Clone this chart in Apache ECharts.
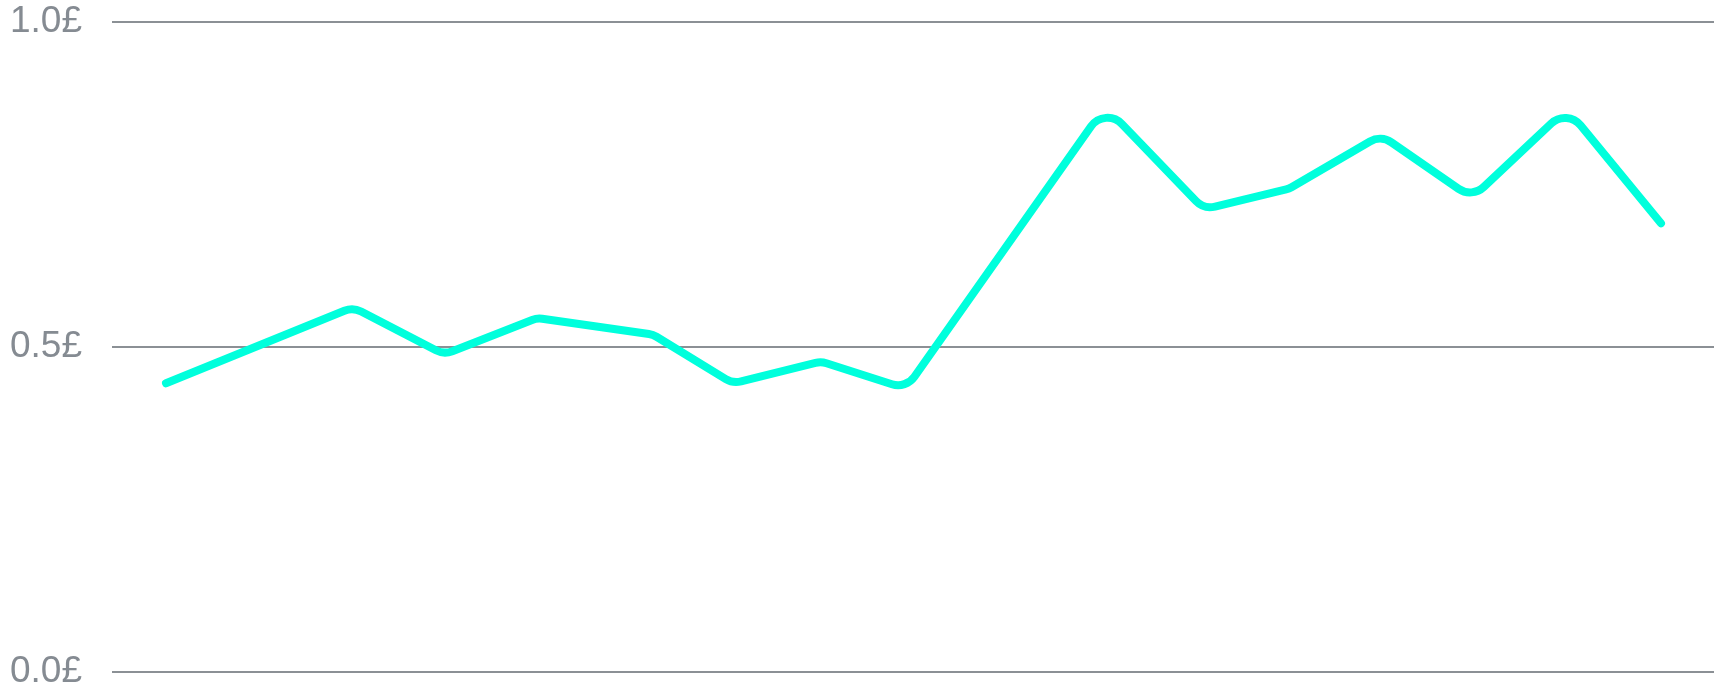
<!DOCTYPE html>
<html>
<head>
<meta charset="utf-8">
<script src="https://cdn.jsdelivr.net/npm/echarts@6/dist/echarts.min.js"></script>
<style>
html,body{margin:0;padding:0;background:#ffffff;}
#chart{width:1716px;height:694px;}
</style>
</head>
<body>
<div id="chart"></div>
<script>
// x positions of observations (relative time units along the axis, 0..100)
const xValues = [3.37, 15.04, 20.72, 26.53, 33.77, 38.76, 44.26, 49.56, 61.99, 68.16, 73.47, 79.21, 84.89, 90.82, 96.69];
// price values in £
const priceValues = [0.4442, 0.5611, 0.4885, 0.5446, 0.5191, 0.4440, 0.4777, 0.4358, 0.8700, 0.7118, 0.7434, 0.8260, 0.7291, 0.8665, 0.6903];
// y tick values and labels
const yTicks = [0, 0.5, 1.0];
const yTickLabels = ['0.0£', '0.5£', '1.0£'];

const LINE_COLOR = '#00ffdc';
const LINE_WIDTH = 8;
const CORNER_RADIUS = 20;

const seriesData = xValues.map((x, i) => [x, priceValues[i]]);

function roundedPath(pts, R) {
  let d = 'M' + pts[0][0] + ' ' + pts[0][1];
  for (let i = 1; i < pts.length - 1; i++) {
    const p0 = pts[i - 1], p1 = pts[i], p2 = pts[i + 1];
    const v1 = [p0[0] - p1[0], p0[1] - p1[1]];
    const v2 = [p2[0] - p1[0], p2[1] - p1[1]];
    const l1 = Math.hypot(v1[0], v1[1]), l2 = Math.hypot(v2[0], v2[1]);
    const u1 = [v1[0] / l1, v1[1] / l1], u2 = [v2[0] / l2, v2[1] / l2];
    const cosT = Math.max(-1, Math.min(1, u1[0] * u2[0] + u1[1] * u2[1]));
    const theta = Math.acos(cosT);           // interior angle
    if (theta > Math.PI - 1e-3) { d += ' L' + p1[0] + ' ' + p1[1]; continue; }
    let t = R / Math.tan(theta / 2);
    t = Math.min(t, l1 / 2, l2 / 2);
    const r = t * Math.tan(theta / 2);
    const phi = Math.PI - theta;             // turning angle
    const k = 4 / 3 * Math.tan(phi / 4) * r;
    const a = [p1[0] + u1[0] * t, p1[1] + u1[1] * t];
    const b = [p1[0] + u2[0] * t, p1[1] + u2[1] * t];
    const c1 = [a[0] - u1[0] * k, a[1] - u1[1] * k];
    const c2 = [b[0] - u2[0] * k, b[1] - u2[1] * k];
    d += ' L' + a[0] + ' ' + a[1];
    d += ' C' + c1[0] + ' ' + c1[1] + ' ' + c2[0] + ' ' + c2[1] + ' ' + b[0] + ' ' + b[1];
  }
  const last = pts[pts.length - 1];
  d += ' L' + last[0] + ' ' + last[1];
  return d;
}

const chart = echarts.init(document.getElementById('chart'), null, {renderer: 'canvas'});
chart.setOption({
  animation: false,
  backgroundColor: '#ffffff',
  grid: {left: 112, right: 2, top: 22, bottom: 22, containLabel: false},
  xAxis: {
    type: 'value', min: 0, max: 100,
    show: false
  },
  yAxis: {
    type: 'value', min: 0, max: 1, interval: 0.5,
    axisLine: {show: false},
    axisTick: {show: false},
    axisLabel: {
      margin: 30,
      fontFamily: 'Liberation Sans, Arial, sans-serif',
      fontSize: 37,
      color: '#858b92',
      padding: [0, 0, 7, 0],
      formatter: function (v) {
        const idx = yTicks.findIndex(t => Math.abs(t - v) < 1e-9);
        return idx >= 0 ? yTickLabels[idx] : '';
      }
    },
    splitLine: {show: true, lineStyle: {color: '#8b9095', width: 2}}
  },
  series: [{
    type: 'custom',
    data: seriesData,
    clip: false,
    silent: true,
    renderItem: function (params, api) {
      if (params.dataIndex !== 0) return null;
      const pts = seriesData.map(d => api.coord(d));
      return {
        type: 'path',
        shape: {pathData: roundedPath(pts, CORNER_RADIUS)},
        style: {fill: 'none', stroke: LINE_COLOR, lineWidth: LINE_WIDTH, lineCap: 'round', lineJoin: 'round'}
      };
    }
  }]
});
</script>
</body>
</html>
